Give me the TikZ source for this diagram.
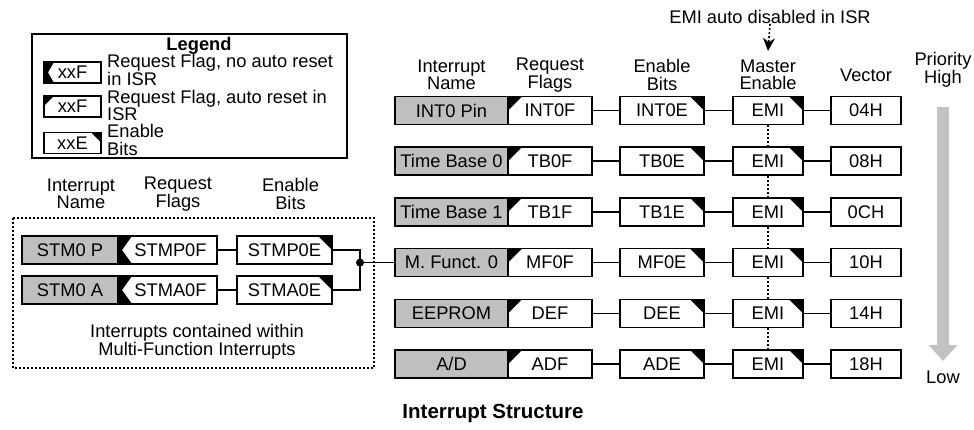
\documentclass[tikz,border=0pt]{standalone}
\usepackage{fontspec}
\setmainfont{Liberation Sans}
\usetikzlibrary{arrows.meta}
\begin{document}
\begin{tikzpicture}[x=1pt,y=-1pt,
  every node/.style={font=\fontsize{18.3}{17.5}\selectfont, inner sep=0pt, align=center},
  box/.style={draw=black, line width=1.4pt, minimum height=28pt, fill=white},
  namebox/.style={box, fill=gray!50, minimum width=113pt},
  flagA/.style={box, path picture={\fill[black] (path picture bounding box.north west) -- ++(#1,0pt) -- ++(-#1,-#1) -- cycle;}},
  flagA/.default=14pt,
  flagN/.style={box, path picture={\fill[black] (path picture bounding box.north west) -- ([xshift=#1]path picture bounding box.north west) -- ([xshift=4pt]path picture bounding box.west) -- ([xshift=#1]path picture bounding box.south west) -- (path picture bounding box.south west) -- cycle;}},
  flagN/.default=14pt,
  enbox/.style={box, path picture={\fill[black] (path picture bounding box.north east) -- ++(-#1,0pt) -- ++(#1,-#1) -- cycle;}},
  enbox/.default=14pt,
  vecbox/.style={box, minimum width=70pt},
  conn/.style={draw=black, line width=1.5pt},
  dotline/.style={draw=black, line width=1.6pt, dash pattern=on 2pt off 2pt},
]
\useasboundingbox (0,0) rectangle (974,430);

% ---------- Legend ----------
\node[draw, line width=1.5pt, minimum width=315pt, minimum height=124pt] (legend) at (189.5,96) {};
\node[font=\fontsize{18.3}{17.5}\selectfont\bfseries] (legtitle) at (199,46) {Legend};
\node[flagN=10pt, minimum width=57pt, minimum height=21pt] (lg1) at (72.5,72.5) {xxF};
\node[flagA=10pt, minimum width=57pt, minimum height=21pt] (lg2) at (72.5,106.5) {xxF};
\node[enbox=10pt, minimum width=57pt, minimum height=21pt] (lg3) at (72.5,143) {xxE};
\node[anchor=west, align=left] (lt1) at (107,70) {Request Flag, no auto reset\\in ISR};
\node[anchor=west, align=left] (lt2) at (107,105.5) {Request Flag, auto reset in\\ISR};
\node[anchor=west, align=left] (lt3) at (107,140) {Enable\\Bits};

% ---------- Left (multi-function) section ----------
\node (lh1) at (81,194) {Interrupt\\Name};
\node (lh2) at (178,194) {Request\\Flags};
\node (lh3) at (290.5,194) {Enable\\Bits};
\draw[dotline] (13,218) rectangle (374,368);
\node (lnote) at (197,342) {Interrupts contained within\\Multi-Function Interrupts};

\node[namebox, minimum width=96pt] (pn) at (70,250) {STM0 P};
\node[flagN, minimum width=99pt] (pf) at (167.5,250) {\hspace*{6pt}STMP0F};
\node[enbox, minimum width=95pt] (pe) at (284.5,250) {STMP0E};
\node[namebox, minimum width=96pt] (an) at (70,290) {STM0 A};
\node[flagN, minimum width=99pt] (af) at (167.5,290) {\hspace*{6pt}STMA0F};
\node[enbox, minimum width=95pt] (ae) at (284.5,290) {STMA0E};
\draw[conn] (pf) -- (pe);
\draw[conn] (af) -- (ae);

% ---------- Right section headers ----------
\node (emitext) at (770,17) {EMI auto disabled in ISR};
\coordinate (emitip) at (768,51);
\node (rh1) at (451.5,75) {Interrupt\\Name};
\node (rh2) at (550,75) {Request\\Flags};
\node (rh3) at (662,75) {Enable\\Bits};
\node (rh4) at (768,75) {Master\\Enable};
\node (rh5) at (866,75) {Vector};
\node (prio) at (943,70) {Priority\\High};
\node (low) at (943,377) {Low};

% ---------- Right section rows ----------
\foreach \i/\y/\n/\f/\e/\v in {1/110.5/INT0 Pin/INT0F/INT0E/04H,
                               2/161.2/Time Base 0/TB0F/TB0E/08H,
                               3/211.9/Time Base 1/TB1F/TB1E/0CH,
                               4/262.6/M. Funct. 0/MF0F/MF0E/10H,
                               5/313.3/EEPROM/DEF/DEE/14H,
                               6/364/{A/D}/ADF/ADE/18H}{
  \node[namebox] (n\i) at (451.5,\y) {\n};
  \node[flagA, minimum width=84pt] (f\i) at (550,\y) {\f};
  \node[enbox, minimum width=84pt] (e\i) at (662,\y) {\e};
  \node[enbox, minimum width=70pt] (m\i) at (768,\y) {EMI};
  \node[vecbox] (v\i) at (866,\y) {\v};
  \draw[conn] (f\i) -- (e\i);
  \draw[conn] (e\i) -- (m\i);
  \draw[conn] (m\i) -- (v\i);
}
\foreach \i [evaluate=\i as \j using int(\i+1)] in {1,...,5}{
  \draw[dotline] (m\i.south) -- (m\j.north);
}
\draw[dotline, -{Stealth[length=13pt,width=12pt]}] (emitext.south) -- (emitip);

% ---------- Junction to M. Funct. 0 ----------
\coordinate (j) at (360,262.6);
\draw[conn] (pe.east) -| (j);
\draw[conn] (ae.east) -| (j);
\draw[conn] (j) -- (n4.west);
\fill (j) circle (4pt);

% ---------- Priority arrow ----------
\coordinate (ptop) at (943,107);
\coordinate (pbot) at (943,361);
\draw[gray!48, line width=11.5pt, -{Triangle[width=28pt,length=16pt]}] (ptop) -- (pbot);

% ---------- Caption ----------
\node[font=\fontsize{20.5}{22}\selectfont\bfseries] (caption) at (493,413) {Interrupt Structure};
\end{tikzpicture}
\end{document}
